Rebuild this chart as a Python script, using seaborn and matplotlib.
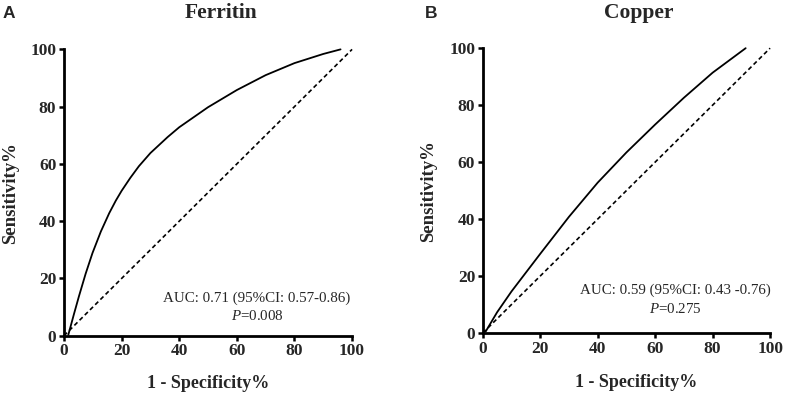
#!/usr/bin/env python3
"""ROC curves for ferritin and copper, two panels side by side."""

import matplotlib

matplotlib.use("Agg")
import matplotlib.pyplot as plt
import pandas as pd
import seaborn as sns

# values (percent)
FERRITIN_FPR = [1.5, 3.5, 5.2, 7.5, 9.9, 12.8, 15.7, 18, 20, 23, 26, 30, 36,
                40, 50, 60, 70, 80, 90, 96]
FERRITIN_TPR = [0.3, 7.7, 13.8, 21.6, 28.9, 36.4, 42.8, 47.2, 50.6, 55.1,
                59.2, 63.8, 69.4, 72.8, 79.8, 85.8, 91, 95.2, 98.4, 100]
COPPER_FPR = [1, 5, 10, 20, 30, 40, 50, 60, 70, 80, 91.5]
COPPER_TPR = [0.5, 7.3, 14.6, 27.8, 40.8, 52.8, 63.4, 73.2, 82.6, 91.4, 100]
CHANCE = [0, 100]

PANELS = (
    ("A", "Ferritin", FERRITIN_FPR, FERRITIN_TPR,
     "AUC: 0.71 (95%CI: 0.57-0.86)", "0.008"),
    ("B", "Copper", COPPER_FPR, COPPER_TPR,
     "AUC: 0.59 (95%CI: 0.43 -0.76)", "0.275"),
)
TICKS = [0, 20, 40, 60, 80, 100]

SERIF = ["Liberation Serif", "DejaVu Serif"]


def draw_panel(ax, fpr, tpr, auc_text, p_value, layout):
    roc = pd.DataFrame({"fpr": fpr, "tpr": tpr})
    sns.lineplot(data=roc, x="fpr", y="tpr", ax=ax, color="black",
                 linewidth=1.3, sort=False, estimator=None)
    diag = pd.DataFrame({"x": CHANCE, "y": CHANCE})
    sns.lineplot(data=diag, x="x", y="y", ax=ax, color="black",
                 linewidth=1.2, linestyle=(0, (2.6, 1.8)))

    ax.set_xlim(0, 100)
    ax.set_ylim(0, 100)
    ax.set_xticks(TICKS)
    ax.set_yticks(TICKS)
    ax.set_xticklabels(TICKS, family=SERIF, fontweight="bold", fontsize=12.5)
    ax.set_yticklabels(TICKS, family=SERIF, fontweight="bold", fontsize=12.5)
    ax.tick_params(direction="out", length=3.5, width=1.8, pad=2, color="black")
    for side in ("top", "right"):
        ax.spines[side].set_visible(False)
    for side in ("left", "bottom"):
        ax.spines[side].set_linewidth(2)
        ax.spines[side].set_color("black")
    for line in ax.lines:
        line.set_clip_on(False)

    ax.set_xlabel("1 - Specificity%", family=SERIF, fontweight="bold",
                  fontsize=13)
    ax.set_ylabel("Sensitivity%", family=SERIF, fontweight="bold",
                  fontsize=13.5)
    ax.xaxis.set_label_coords(layout["xlabel"][0], layout["xlabel"][1])
    ax.yaxis.set_label_coords(layout["ylabel"], 0.5)

    ax.text(67, layout["auc_y"], auc_text, family=SERIF, fontsize=10.8,
            ha="center", va="center")
    ax.text(67, layout["p_y"], "$\\mathit{P}$=" + p_value, family=SERIF,
            fontsize=10.8, ha="center", va="center")


def main():
    sns.set_theme(style="ticks")
    plt.rcParams["mathtext.fontset"] = "custom"
    plt.rcParams["mathtext.it"] = "Liberation Serif:italic"
    plt.rcParams["font.family"] = ["Liberation Sans", "DejaVu Sans"]

    fig = plt.figure(figsize=(7.85, 3.95), dpi=100)
    boxes = ([0.0815, 0.150, 0.367, 0.725], [0.615, 0.157, 0.366, 0.721])
    title_x = (221 / 785, 639 / 785)
    letter_x = (3 / 785, 425 / 785)
    layouts = (
        {"xlabel": (0.5, -0.136), "ylabel": -0.156, "auc_y": 13.2, "p_y": 7.0},
        {"xlabel": (0.535, -0.143), "ylabel": -0.16, "auc_y": 15.0, "p_y": 8.4},
    )

    for i, (letter, title, fpr, tpr, auc_text, p_value) in enumerate(PANELS):
        ax = fig.add_axes(boxes[i])
        draw_panel(ax, fpr, tpr, auc_text, p_value, layouts[i])
        fig.text(title_x[i], 0.967, title, family=SERIF, fontweight="bold",
                 fontsize=15.5, ha="center", va="center")
        fig.text(letter_x[i], 0.967, letter, fontweight="bold",
                 fontsize=12.5, ha="left", va="center")

    fig.savefig("out.png", dpi=100)
    plt.close(fig)


if __name__ == "__main__":
    main()
